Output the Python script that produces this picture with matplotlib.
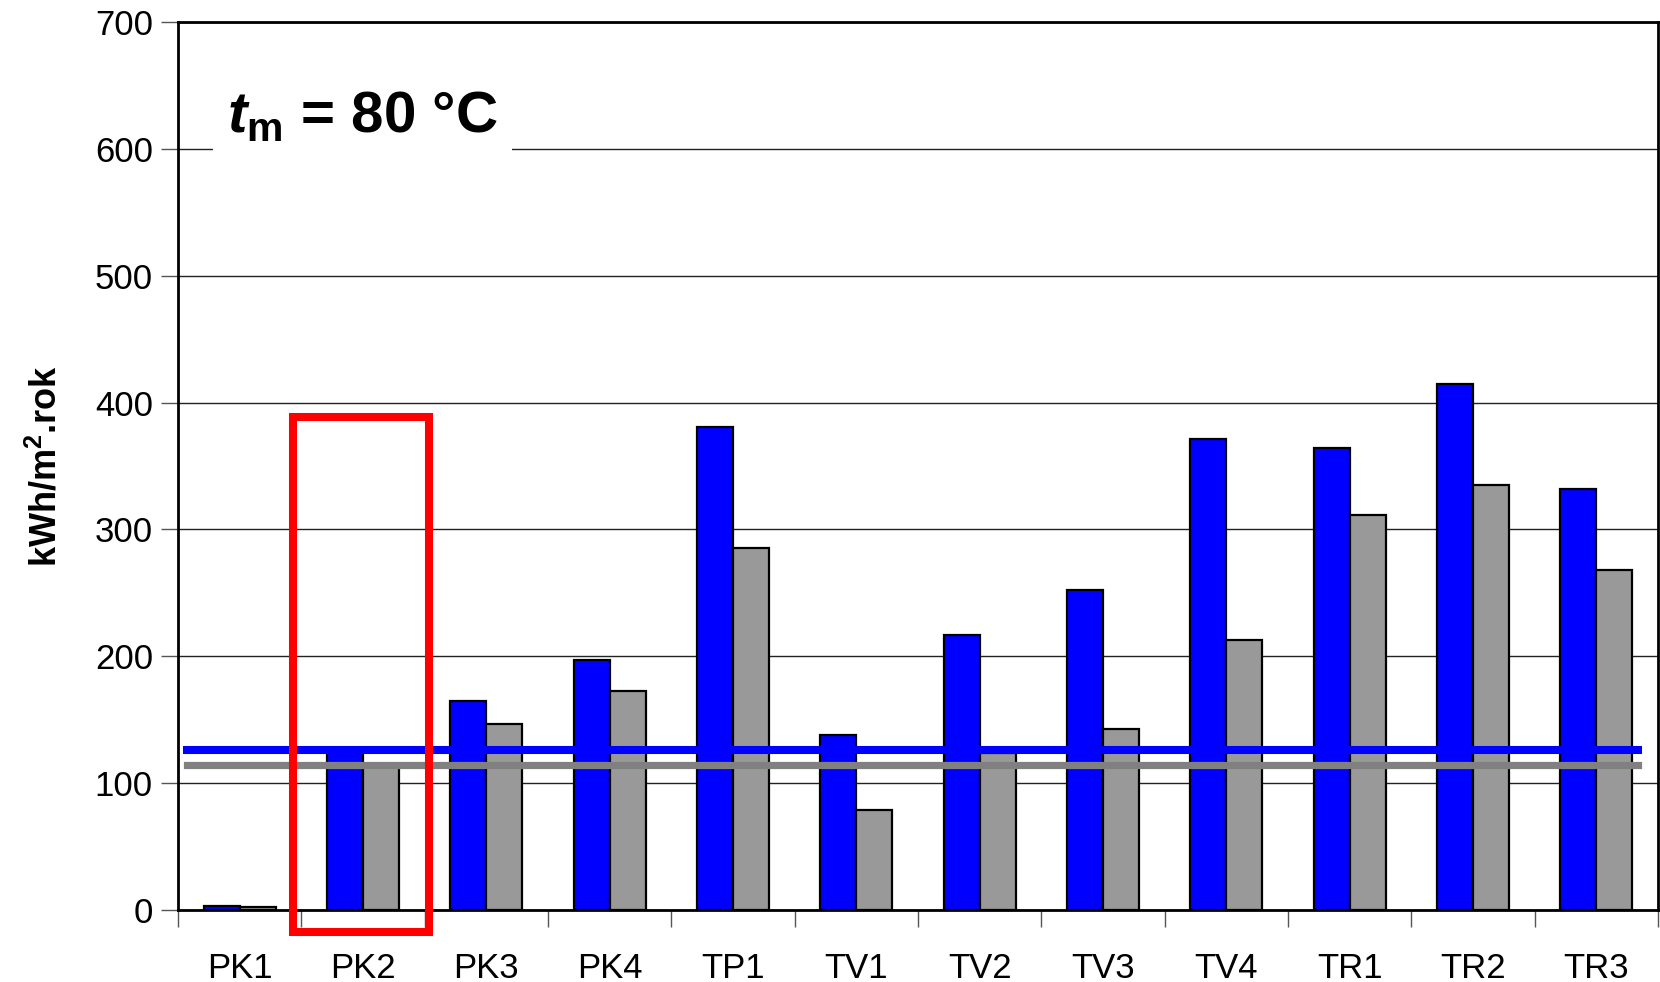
import matplotlib
matplotlib.use("Agg")
import matplotlib.pyplot as plt
from matplotlib.patches import Rectangle
import numpy as np

# data
categories = ["PK1", "PK2", "PK3", "PK4", "TP1", "TV1", "TV2", "TV3", "TV4", "TR1", "TR2", "TR3"]
blue_values = [3.5, 127, 165, 197, 381, 138, 217, 252, 371, 364, 415, 332]
gray_values = [2.5, 113, 147, 173, 285, 79, 124, 143, 213, 311, 335, 268]
blue_level = 126
gray_level = 114
y_ticks = [0, 100, 200, 300, 400, 500, 600, 700]

plt.rcParams["font.family"] = ["Liberation Sans", "DejaVu Sans"]
plt.rcParams["mathtext.fontset"] = "custom"
plt.rcParams["mathtext.rm"] = "Liberation Sans:bold"
plt.rcParams["mathtext.it"] = "Liberation Sans:italic:bold"
plt.rcParams["mathtext.bf"] = "Liberation Sans:bold"

fig = plt.figure(figsize=(16.6, 9.82), dpi=100)
ax = fig.add_axes([0.1072, 0.0733, 0.8916, 0.9043])

x = np.arange(len(categories))
w = 0.292
ax.bar(x - w / 2, blue_values, width=w, color="#0000FF", edgecolor="black",
       linewidth=1.6, zorder=3)
ax.bar(x + w / 2, gray_values, width=w, color="#999999", edgecolor="black",
       linewidth=1.6, zorder=3)

# reference levels
ax.axhline(blue_level, xmin=0.006, xmax=0.9865, color="#0000FF", linewidth=5.8, zorder=4)
ax.axhline(gray_level, xmin=0.006, xmax=0.9865, color="#808080", linewidth=5.2, zorder=4)

# highlight PK2
hl = categories.index("PK2")
ax.add_patch(Rectangle((hl - 0.568, -17), 1.103, 406, fill=False, edgecolor="#FF0000",
                       linewidth=5.8, clip_on=False, zorder=6))

ax.set_xlim(-0.5, len(categories) - 0.5)
ax.set_ylim(0, 700)
ax.set_yticks(y_ticks)
ax.set_yticklabels([str(v) for v in y_ticks], fontsize=25)
ax.yaxis.grid(True, color="#222222", linewidth=1.0, zorder=0)
ax.tick_params(axis="y", length=12, width=1.0, color="#555555", pad=6)

ax.set_xticks(np.arange(len(categories) + 1) - 0.5)
ax.set_xticklabels([])
ax.tick_params(axis="x", which="major", length=12, width=1.0, color="#555555")
ax.set_xticks(x, minor=True)
ax.set_xticklabels(categories, minor=True, fontsize=25)
ax.tick_params(axis="x", which="minor", length=0, pad=30)

for s in ax.spines.values():
    s.set_linewidth(2)
    s.set_color("black")

ax.set_ylabel("kWh/m$^2$.rok", fontsize=26, fontweight="bold", labelpad=22)

ax.text(0.033, 0.893, r"$\mathit{t}_\mathrm{m}$ = 80 °C", transform=ax.transAxes,
        fontsize=42, fontweight="bold", va="center", ha="left", zorder=5,
        bbox=dict(facecolor="white", edgecolor="none", pad=10))

fig.savefig("out.png", dpi=100)
